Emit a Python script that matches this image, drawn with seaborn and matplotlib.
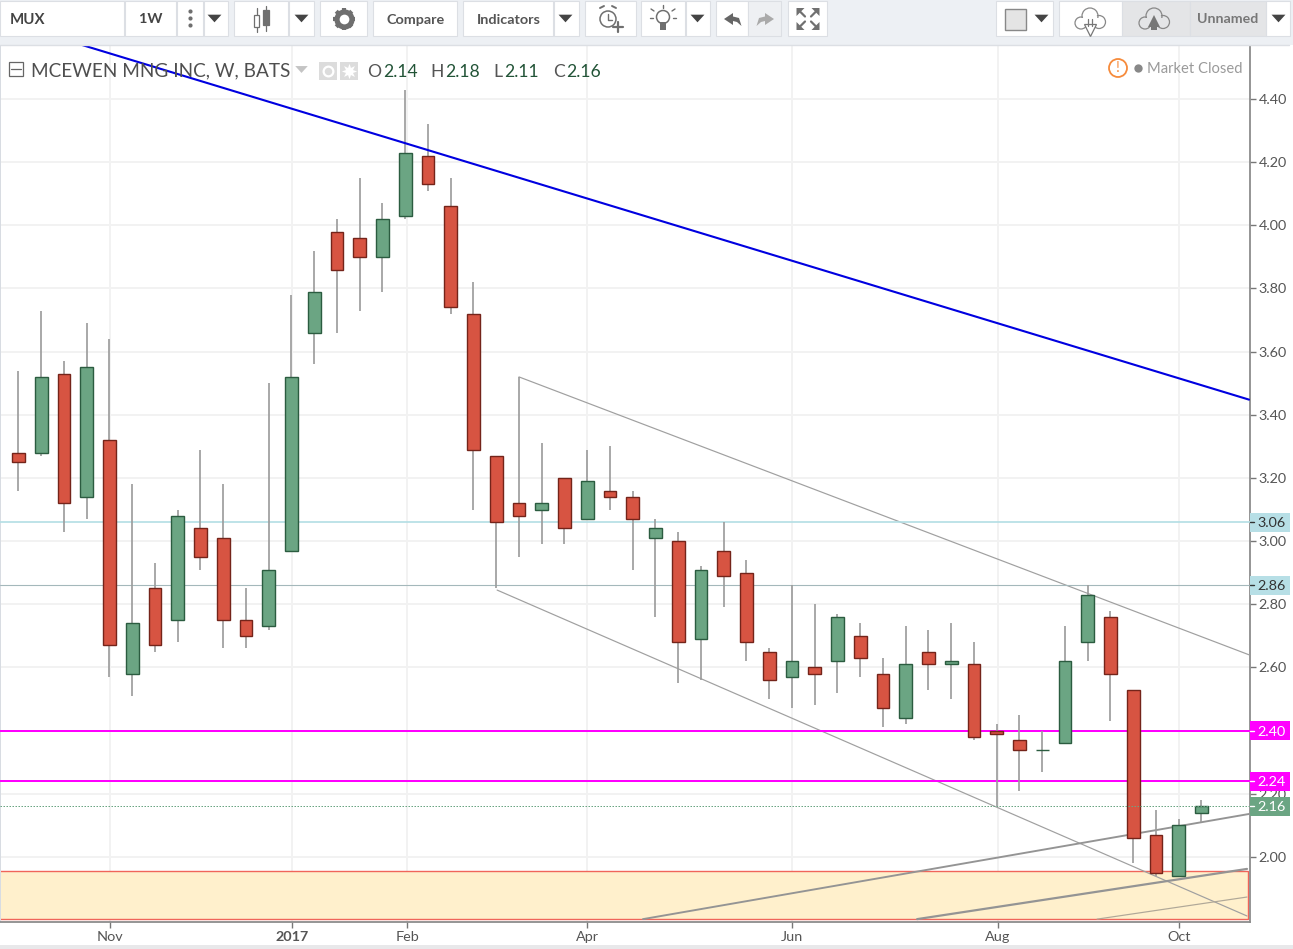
import matplotlib
matplotlib.use("Agg")
import matplotlib.pyplot as plt
from matplotlib.patches import Rectangle, Circle
import seaborn as sns
import numpy as np
import pandas as pd

sns.set_style("white")
plt.rcParams['font.family'] = ['Lato', 'DejaVu Sans']

# weekly candles
opens = [3.28, 3.28, 3.53, 3.14, 3.32, 2.58, 2.85, 2.75, 3.04, 3.01, 2.75, 2.73, 2.97,
         3.66, 3.98, 3.96, 3.90, 4.03, 4.22, 4.06, 3.72, 3.27, 3.12, 3.10, 3.20, 3.07,
         3.16, 3.14, 3.01, 3.00, 2.69, 2.97, 2.90, 2.65, 2.57, 2.60, 2.62, 2.70, 2.58,
         2.44, 2.65, 2.61, 2.61, 2.40, 2.37, 2.34, 2.36, 2.68, 2.76, 2.53, 2.07, 1.94, 2.14]
closes = [3.25, 3.52, 3.12, 3.55, 2.67, 2.74, 2.67, 3.08, 2.95, 2.75, 2.70, 2.91, 3.52,
          3.79, 3.86, 3.90, 4.02, 4.23, 4.13, 3.74, 3.29, 3.06, 3.08, 3.12, 3.04, 3.19,
          3.14, 3.07, 3.04, 2.68, 2.91, 2.89, 2.68, 2.56, 2.62, 2.58, 2.76, 2.63, 2.47,
          2.61, 2.61, 2.62, 2.38, 2.39, 2.34, 2.34, 2.62, 2.83, 2.58, 2.06, 1.95, 2.10, 2.16]
highs = [3.54, 3.73, 3.57, 3.69, 3.64, 3.18, 2.93, 3.10, 3.29, 3.18, 2.85, 3.50, 3.78,
         3.92, 4.02, 4.15, 4.07, 4.43, 4.32, 4.15, 3.82, 3.27, 3.52, 3.31, 3.20, 3.29,
         3.30, 3.16, 3.07, 3.03, 2.92, 3.06, 2.94, 2.66, 2.86, 2.80, 2.77, 2.74, 2.63,
         2.73, 2.72, 2.74, 2.68, 2.42, 2.45, 2.40, 2.73, 2.86, 2.78, 2.53, 2.15, 2.12, 2.18]
lows = [3.16, 3.27, 3.03, 3.07, 2.57, 2.51, 2.65, 2.68, 2.91, 2.66, 2.66, 2.72, 2.97,
        3.56, 3.66, 3.73, 3.79, 4.02, 4.11, 3.72, 3.10, 2.85, 2.95, 2.99, 2.99, 3.07,
        3.10, 2.91, 2.76, 2.55, 2.56, 2.79, 2.62, 2.50, 2.47, 2.48, 2.52, 2.57, 2.41,
        2.42, 2.53, 2.50, 2.37, 2.16, 2.21, 2.27, 2.36, 2.62, 2.43, 1.98, 1.94, 1.94, 2.11]

price_ticks = [2.00, 2.20, 2.40, 2.60, 2.80, 3.00, 3.20, 3.40, 3.60, 3.80, 4.00, 4.20, 4.40]
month_pos = [4.03, 12.04, 17.08, 25, 34, 43.05, 51.03]
month_labels = ['Nov', '2017', 'Feb', 'Apr', 'Jun', 'Aug', 'Oct']

# drawings on the chart: (week, price) -> (week, price)
blue_line = ([2.80, 54.09], [4.571, 3.448])
channel_top = ([22.0, 54.09], [3.52, 2.64])
channel_low = ([21.04, 54.0], [2.845, 1.813])
thick_up1 = ([27.45, 54.09], [1.803, 2.136])
thick_up2 = ([39.5, 54.0], [1.803, 1.962])
thin_up = ([47.41, 54.0], [1.803, 1.873])
zone = [1.803, 1.955]
levels_teal = [3.06, 2.86]
levels_pink = [2.40, 2.24]
last_price = 2.16

df = pd.DataFrame({'week': np.arange(len(opens)), 'o': opens, 'c': closes, 'h': highs, 'l': lows})
df['bottom'] = df[['o', 'c']].min(axis=1)
df['body'] = (df['c'] - df['o']).abs()
df['up'] = df['c'] >= df['o']

W, H = 1293, 949
fig = plt.figure(figsize=(W / 100, H / 100), dpi=100, facecolor='white')
px = 0.72  # one screen pixel in points

ax = fig.add_axes([0, (H - 921.5) / H, 1249.5 / W, 876.5 / H], zorder=1)
ax.set_facecolor('white')

# grid
ax.grid(True, color='#f2f2f2', lw=2 * px)
ax.set_axisbelow(True)

# candles
GREY = '#9c9c9c'
ax.vlines(df['week'], df['l'], df['h'], color=GREY, lw=1.7 * px, zorder=4)
for up, fill, edge in [(True, '#6ba583', '#2b5c40'), (False, '#d75442', '#74241a')]:
    part = df[df['up'] == up]
    sns.barplot(data=part, x='week', y='body', bottom=part['bottom'], native_scale=True, errorbar=None,
                color=fill, saturation=1, width=0.56, edgecolor=edge, linewidth=1.4 * px, ax=ax, zorder=5)

# zone and lines
ax.axhspan(zone[0], zone[1], xmin=-0.01, xmax=0.9985, facecolor='#fff0cc', edgecolor='#f0655a', lw=1.4 * px, zorder=1)
ax.plot(*blue_line, color='#0000e0', lw=2.1 * px, zorder=7)
for ln, w, col in [(channel_top, 1.2, '#a0a0a0'), (channel_low, 1.2, '#a0a0a0'),
                   (thick_up1, 1.9, '#949494'), (thick_up2, 2.2, '#949494'), (thin_up, 1.2, '#b0a898')]:
    ax.plot(*ln, color=col, lw=w * px, zorder=3)
ax.axhline(levels_teal[0], color='#b4dfe5', lw=1.7 * px, zorder=3)
ax.axhline(levels_teal[1], color='#a4b8bb', lw=1.1 * px, zorder=3)
for lv in levels_pink:
    ax.axhline(lv, color='#ff00ff', lw=2 * px, zorder=3)
ax.axhline(last_price, color='#6ba583', lw=1 * px, ls=(0, (1.5, 1.5)), zorder=6)

ax.set_xlim(-0.81, 54.11)
ax.set_ylim(1.7955, 4.571)
ax.set_xlabel('')
ax.set_ylabel('')
ax.yaxis.tick_right()
ax.set_yticks(price_ticks)
ax.set_yticklabels(['%.2f' % p for p in price_ticks])
ax.set_xticks(month_pos)
ax.set_xticklabels(month_labels)
ax.tick_params(axis='both', length=4, width=1, color='#777777', labelcolor='#555555', labelsize=10.4, pad=2.6,
               bottom=True, right=True)
ax.get_xticklabels()[1].set_fontweight('bold')
for s in ['top', 'left']:
    ax.spines[s].set_visible(False)
for s in ['right', 'bottom']:
    ax.spines[s].set_color('#8c8c8c')
    ax.spines[s].set_linewidth(1.8 * px)
ax.axvline(-0.81, color='#d8dce2', lw=2 * px, zorder=2)

# price tags on the right axis
trans = ax.get_yaxis_transform()
for lv, bg, fg in [(3.06, '#b7dfe6', '#333333'), (2.86, '#b7dfe6', '#333333'),
                   (2.40, '#ff00ff', 'white'), (2.24, '#ff00ff', 'white'), (2.16, '#6ba583', 'white')]:
    ax.add_patch(Rectangle((1.0008, lv - 0.03), 0.0315, 0.06, transform=trans, facecolor=bg, edgecolor='none',
                           clip_on=False, zorder=8))
    ax.plot([1.0, 1.004], [lv, lv], transform=trans, color=fg, lw=1, clip_on=False, zorder=9)
    ax.text(1.0066, lv, '%.2f' % lv, transform=trans, color=fg, fontsize=10.4, va='center_baseline', ha='left',
            clip_on=False, zorder=9)

# toolbar, header text, in screen pixels
ui = fig.add_axes([0, 0, 1, 1], zorder=2)
ui.set_xlim(0, W)
ui.set_ylim(H, 0)
ui.axis('off')
ui.patch.set_alpha(0)

STRIP = '#edf0f4'
LINE = '#dcdfe4'
DARK = '#6f6f6f'
ui.add_patch(Rectangle((0, 0), W, 45, facecolor=STRIP, edgecolor='none'))
ui.add_patch(Rectangle((0, 945), W, 4, facecolor='#e8e8ea', edgecolor='none'))
ui.plot([0, 1289], [45, 45], color=LINE, lw=1)


def button(x0, x1, fill='white'):
    ui.add_patch(Rectangle((x0, 1), x1 - x0, 35, facecolor=fill, edgecolor=LINE, lw=0.8))


def arrow_down(x, y=18):
    ui.plot(x, y, marker=[(-1, 0.55), (1, 0.55), (0, -0.55)], ms=10, color='#444444', mew=0)


for a, b in [(0, 124), (125, 176), (177, 203), (204, 228), (234, 288), (289, 314), (320, 367), (373, 457),
             (463, 553), (554, 579), (585, 636), (641, 685), (686, 710), (716, 748), (788, 827),
             (996, 1053), (1059, 1122), (1266, 1290)]:
    button(a, b)
button(748, 781, '#eef0f3')
button(1122, 1190, '#e4e5e7')
button(1190, 1266, '#e4e5e7')

for x in [214, 301, 565, 697, 1041, 1278]:
    arrow_down(x)
ui.text(10, 19.5, 'MUX', fontsize=10.8, fontweight='bold', color='#444444', va='center')
ui.text(151, 18.5, '1W', fontsize=10.4, fontweight='bold', color='#444444', va='center', ha='center')
ui.text(416, 19.5, 'Compare', fontsize=10.4, fontweight='bold', color='#555555', va='center', ha='center')
ui.text(509, 19.5, 'Indicators', fontsize=10.4, fontweight='bold', color='#555555', va='center', ha='center')
ui.text(1228, 18.5, 'Unnamed', fontsize=10.2, fontweight='bold', color='#777777', va='center', ha='center')

# dots menu
ui.plot([190, 190, 190], [11, 18, 25], ls='', marker='o', ms=3, color=DARK, mew=0)
# candle icon
ui.plot([256.5, 256.5], [8, 32], color=DARK, lw=0.9)
ui.plot([266, 266], [6, 31], color=DARK, lw=0.9)
ui.add_patch(Rectangle((254, 15), 5, 12, facecolor='white', edgecolor=DARK, lw=0.9, zorder=3))
ui.add_patch(Rectangle((263, 10), 6, 15, facecolor=DARK, edgecolor=DARK, lw=0.9, zorder=3))
# gear
for ang in np.arange(0, 180, 45):
    dx, dy = 11 * np.cos(np.radians(ang)), 11 * np.sin(np.radians(ang))
    ui.plot([344 - dx, 344 + dx], [19 - dy, 19 + dy], color=DARK, lw=3, solid_capstyle='butt')
ui.plot(344, 19, marker='o', ms=14.5, color=DARK, mew=0)
ui.plot(344, 19, marker='o', ms=7, color='white', mew=0)
# alarm
ui.add_patch(Circle((608, 19), 8, facecolor='none', edgecolor=DARK, lw=1.1))
ui.plot([608, 608, 612], [14, 20, 20], color=DARK, lw=1)
ui.plot([600, 604], [8, 6], color=DARK, lw=1.4)
ui.plot([612, 616], [6, 8], color=DARK, lw=1.4)
ui.plot([613, 623, np.nan, 618, 618], [27, 27, np.nan, 22, 32], color=DARK, lw=1.6)
# bulb
ui.add_patch(Circle((663, 17), 6.5, facecolor='none', edgecolor=DARK, lw=1.1))
ui.add_patch(Rectangle((660, 22), 6, 8, facecolor=DARK, edgecolor='none'))
for dx, dy, ex, ey in [(-9, -6, -12, -8), (9, -6, 12, -8), (0, -9, 0, -12), (-10, 1, -13, 1), (10, 1, 13, 1)]:
    ui.plot([663 + dx, 663 + ex], [17 + dy, 17 + ey], color=DARK, lw=1)
# undo / redo
undo_x = np.array([724, 733, 733, 739, 741.5, 737, 733, 733])
undo_y = [19, 13, 16.5, 18, 26, 22, 21, 25]
ui.fill(undo_x, undo_y, color='#666666', lw=0)
ui.fill(1498 - undo_x, undo_y, color='#aaaaaa', lw=0)
# full screen
for sx, sy in [(-1, -1), (1, -1), (-1, 1), (1, 1)]:
    cx, cy = 808 + 11.5 * sx, 19 + 11 * sy
    ui.fill([cx, cx - 8 * sx, cx], [cy, cy, cy - 8 * sy], color='#707070', lw=0)
    ui.plot([cx - 4 * sx, cx - 8.5 * sx], [cy - 4 * sy, cy - 8.5 * sy], color='#707070', lw=1.6)
# colour square
ui.add_patch(Rectangle((1005, 9), 21, 21, facecolor='#e4e4e4', edgecolor='#888888', lw=1))
# clouds
for cx, fill, head in [(1090, 'white', 'down'), (1154, '#e4e5e7', 'up')]:
    for dx, dy, r in [(-9, 5, 6), (0, -2, 8), (9, 4, 6.5)]:
        ui.add_patch(Circle((cx + dx, 18 + dy), r, facecolor='none', edgecolor='#888888', lw=0.9))
    ui.add_patch(Rectangle((cx - 9, 18), 18, 9, facecolor=fill, edgecolor='none'))
    ui.add_patch(Circle((cx, 17), 7, facecolor=fill, edgecolor='none'))
    if head == 'down':
        ui.plot(cx, 30, marker='v', ms=8, mfc='white', mec='#777777', mew=0.9)
        ui.plot([cx - 2, cx - 2, np.nan, cx + 2, cx + 2], [19, 26, np.nan, 19, 26], color='#777777', lw=0.9)
    else:
        ui.plot(cx, 21, marker='^', ms=9, color='#777777', mew=0)
        ui.add_patch(Rectangle((cx - 3, 22), 6, 8, facecolor='#777777', edgecolor='none'))

# header line
ui.add_patch(Rectangle((9, 62), 14, 14, facecolor='none', edgecolor='#666666', lw=0.9))
ui.plot([11, 21], [69, 69], color='#666666', lw=0.9)
ui.text(31, 71, 'MCEWEN MNG INC, W, BATS', fontsize=13.7, color='#4f4f4f', va='center')
ui.plot(301, 69, marker=[(-1, 0.55), (1, 0.55), (0, -0.55)], ms=9, color='#c4c4c4', mew=0)
for x0 in [319, 340]:
    ui.add_patch(Rectangle((x0, 62), 18, 18, facecolor='#dcdcdc', edgecolor='none'))
ui.plot(328, 71, marker='o', ms=7, mfc='none', mec='white', mew=1.6)
ui.plot(349, 71, marker=(8, 1, 0), ms=11, color='white', mew=0)
for x, name, val in [(367, 'O', '2.14'), (430, 'H', '2.18'), (493, 'L', '2.11'), (553, 'C', '2.16')]:
    t = ui.text(x, 71.5, name, fontsize=12.6, color='#555555', va='center')
    ui.annotate(val, xy=(1, 0.5), xycoords=t, xytext=(1.2, 0), textcoords='offset points',
                fontsize=12.6, color='#225437', va='center')
ui.add_patch(Circle((1118, 68), 9, facecolor='white', edgecolor='#f68b3c', lw=1.3))
ui.text(1118, 68, '!', fontsize=10.5, color='#f68b3c', va='center', ha='center')
ui.plot(1138, 68, marker='o', ms=6, color='#888888', mew=0)
ui.text(1147, 69, 'Market Closed', fontsize=10.6, color='#9a9a9a', va='center')

plt.savefig('out.png', dpi=100)
